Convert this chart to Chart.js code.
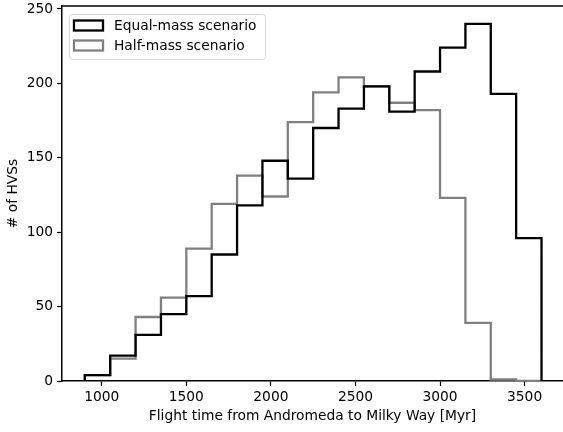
<!DOCTYPE html>
<html>
<head>
<meta charset="utf-8">
<script src="https://cdn.jsdelivr.net/npm/chart.js@4.4.1/dist/chart.umd.min.js"></script>
<style>
  html, body { margin:0; padding:0; background:#fff; }
  #wrap { width:563px; height:432px; }
</style>
</head>
<body>
<div id="wrap"><canvas id="histChart" width="563" height="432"></canvas></div>
<script>
// bin edges [Myr], 150 Myr wide
const binEdges = [900,1050,1200,1350,1500,1650,1800,1950,2100,2250,2400,2550,2700,2850,3000,3150,3300,3450,3600];
const equalMass = [4,17,31,45,57,85,118,148,136,170,183,198,181,208,224,240,193,96];
const halfMass  = [4,15,43,56,89,119,138,124,174,194,204,198,187,182,123,39,1,0];
const seriesLabels = ['Equal-mass scenario', 'Half-mass scenario'];
const xTicks = [1000,1500,2000,2500,3000,3500];
const yTicks = [0,50,100,150,200,250];

const FONT = 'DejaVu Sans';
const FSIZE = 13.8;

// histtype="step" outline: up at first edge, across each bin, down at last edge
function stepPoints(counts){
    const pts = [{x: binEdges[0], y: 0}];
    counts.forEach((c, i) => pts.push({x: binEdges[i], y: c}));
    pts.push({x: binEdges[binEdges.length - 1], y: 0});
    return pts;
}

// matplotlib keeps a top spine, chart.js doesn't
const topSpine = {
    id: 'topSpine',
    afterDraw(chart){
        const {ctx, chartArea: a} = chart;
        ctx.save();
        ctx.strokeStyle = '#000';
        ctx.lineWidth = 1.5;
        ctx.beginPath();
        ctx.moveTo(a.left - 0.75, a.top);
        ctx.lineTo(a.right + 2, a.top);
        ctx.stroke();
        ctx.restore();
    }
};

// legend in the upper left corner, inside the axes
const boxLegend = {
    id: 'boxLegend',
    afterDraw(chart){
        const ctx = chart.ctx;
        const a = chart.chartArea;
        const x0 = a.left + 7, y0 = a.top + 8, w = 196, h = 45;
        ctx.save();
        ctx.beginPath();
        ctx.roundRect(x0 + 0.5, y0 + 0.5, w, h, 3);
        ctx.fillStyle = 'rgba(255,255,255,0.8)';
        ctx.fill();
        ctx.strokeStyle = '#d6d6d6';
        ctx.lineWidth = 1;
        ctx.stroke();

        ctx.font = FSIZE + 'px "' + FONT + '"';
        ctx.textBaseline = 'middle';
        chart.data.datasets.forEach((ds, i) => {
            const cy = y0 + 11.5 + i * 20;
            ctx.strokeStyle = ds.borderColor;
            ctx.lineWidth = 2.3;
            ctx.strokeRect(x0 + 5, cy - 5, 29, 10);
            ctx.fillStyle = '#000';
            ctx.fillText(ds.label, x0 + 45, cy + 0.5);
        });
        ctx.restore();
    }
};

const ctx = document.getElementById('histChart').getContext('2d');
const chart = new Chart(ctx, {
    type: 'line',
    data: {
        datasets: [
            {label: seriesLabels[0], data: stepPoints(equalMass), borderColor: '#000000',
             borderWidth: 2.3, stepped: 'before', pointRadius: 0, fill: false},
            {label: seriesLabels[1], data: stepPoints(halfMass), borderColor: '#808080',
             borderWidth: 2.3, stepped: 'before', pointRadius: 0, fill: false}
        ]
    },
    options: {
        responsive: false,
        animation: false,
        layout: {padding: {top: 6, left: 0, right: 0, bottom: 0}},
        plugins: {legend: {display: false}, tooltip: {enabled: false}},
        scales: {
            x: {
                type: 'linear', min: 765, max: 3727,
                afterBuildTicks: s => { s.ticks = xTicks.map(v => ({value: v})); },
                afterFit: s => { s.height = 51; s.paddingLeft = 0; s.paddingRight = 0; },
                grid: {drawOnChartArea: false, drawTicks: true, tickLength: 5, tickWidth: 1.2, tickColor: '#000'},
                border: {display: true, color: '#000', width: 1.5},
                ticks: {color: '#000', font: {family: FONT, size: FSIZE}, padding: 3, maxRotation: 0,
                        callback: v => String(v)},
                title: {display: true, text: 'Flight time from Andromeda to Milky Way [Myr]', color: '#000',
                        font: {family: FONT, size: FSIZE}, padding: {top: 7, bottom: 7}}
            },
            y: {
                min: 0, max: 252,
                afterBuildTicks: s => { s.ticks = yTicks.map(v => ({value: v})); },
                afterFit: s => { s.width = 62; s.paddingTop = 0; s.paddingBottom = 0; },
                grid: {drawOnChartArea: false, drawTicks: true, tickLength: 5, tickWidth: 1.2, tickColor: '#000'},
                border: {display: true, color: '#000', width: 1.5},
                ticks: {color: '#000', font: {family: FONT, size: FSIZE}, padding: 4,
                        callback: v => String(v)},
                title: {display: true, text: '# of HVSs', color: '#000',
                        font: {family: FONT, size: FSIZE}, padding: {top: 5, bottom: 5}}
            }
        }
    },
    plugins: [topSpine, boxLegend]
});
</script>
</body>
</html>
